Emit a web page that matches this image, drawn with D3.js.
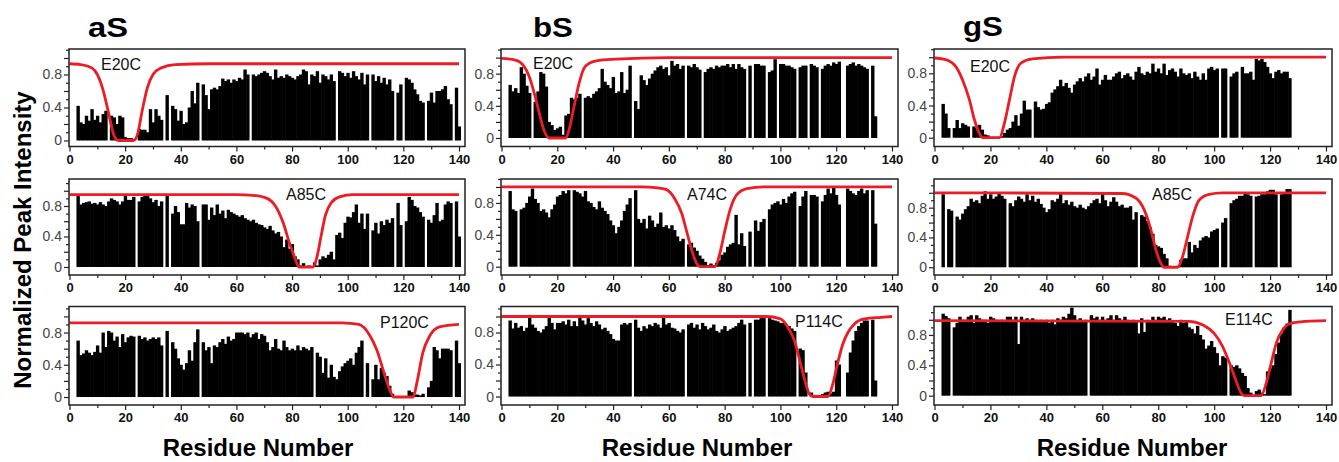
<!DOCTYPE html>
<html>
<head>
<meta charset="utf-8">
<script src="https://cdn.jsdelivr.net/npm/d3@7"></script>
<style>
  html, body { margin: 0; padding: 0; background: #fff; }
  svg { display: block; }
</style>
</head>
<body>
<svg id="chart" width="1339" height="462"></svg>
<script>
// ---------------------------------------------------------------
// Normalized PRE peak intensities, one value per residue (1..N).
// null = residue without a usable cross-peak.
// ---------------------------------------------------------------
const aS_E20C = [
  null,null,.42,.22,.20,.30,.24,.38,.25,.30,
  .22,.32,.36,null,.30,.28,.20,.30,.28,.04,
  .03,.03,.02,null,.14,.13,.13,.10,.38,.22,
  .38,.30,.25,null,.55,null,.42,.38,.24,.36,
  .20,.22,.40,.60,.45,.70,null,.68,.55,.38,
  .62,.64,.62,.66,.75,.72,.74,.70,.74,.72,
  .76,.74,.86,.80,null,.80,.78,.80,.82,.84,
  .82,.78,.74,.86,.76,.78,.76,.80,.78,.76,
  .74,.78,.80,.86,.84,.68,.80,.78,.84,.70,
  .80,.78,.74,.80,.72,null,.84,.82,.78,.82,
  .76,.84,.78,.74,.82,.68,.80,null,.80,.72,
  .78,.70,.76,.68,.74,.60,null,.58,.68,null,
  .76,.74,.70,.62,.56,.48,.46,null,.48,.58,
  .46,.60,.60,.62,.66,.50,.44,null,.64,.17
];
const aS_A85C = [
  null,null,.93,.82,.84,.85,.86,.83,.84,.82,
  .85,.82,.80,.86,.90,.88,.86,.82,.86,.93,
  .88,.88,.92,null,.86,.92,.95,.93,.90,.85,
  .88,.80,.86,null,.93,null,.70,.80,.72,.56,
  .56,.84,.78,.82,.80,.60,null,.82,.82,.62,
  .78,.68,.82,.70,.74,.64,.75,.72,.70,.68,
  .66,.68,.64,.62,.60,.62,.58,.56,.55,.52,
  .50,.54,.48,.44,.46,.40,.26,.36,.24,.30,
  .14,.10,.02,.05,.01,.02,.01,.06,.02,.10,
  .14,.12,.16,.20,.10,.42,.45,.38,.58,.66,
  .65,.72,.82,.58,.70,.50,.70,null,.48,.58,
  .44,.60,.55,.62,.58,.64,null,.84,.55,null,
  .60,.92,.88,.80,.78,.72,.66,null,.62,.58,
  .68,.84,.60,.62,.82,.86,.84,null,.86,.40
];
const aS_P120C = [
  null,null,.70,.52,.54,.58,.55,.52,.56,.64,
  .55,.80,.62,.82,.80,.70,.75,.62,.78,.68,
  .74,.76,.75,null,.76,.72,.74,.70,.72,.74,
  .72,.74,.64,null,.82,null,.68,.60,.48,.40,
  .34,.42,.58,.45,.68,.84,null,.68,.58,.62,
  .42,.64,.62,.68,.72,.66,.75,.70,.72,.80,
  .80,.80,.78,.80,.74,.78,.80,.72,.78,.76,
  .68,.58,.62,.72,.60,.58,.70,.62,.58,.60,
  .58,.64,.58,.62,.60,.58,.62,null,.55,.50,
  .30,.48,.24,.40,.25,.22,.32,.38,.42,.45,
  .48,.40,.55,.62,.70,null,.42,null,.22,.40,
  .22,.36,.30,.26,.14,.04,null,.01,.01,null,
  .01,.08,.06,.03,.03,.02,.04,null,.12,.20,
  .62,.58,.48,.60,.60,.60,.58,null,.70,.42
];

const bS_E20C = [
  null,null,.66,.58,.62,.56,.88,.80,.65,.56,
  null,.45,.58,.82,.80,.64,.20,.16,.10,.12,
  .14,.04,.28,.30,.50,.48,.50,.55,null,.50,
  .52,.50,.55,.58,.62,.86,.70,.66,.62,.76,
  .56,.58,.82,.56,.60,.90,null,.46,.36,.78,
  .72,.66,.74,.80,.84,.88,.90,.86,.88,.78,
  .96,.90,.92,.86,.90,null,.90,.88,.92,.88,
  .85,null,.82,.86,.88,.86,.90,.88,.90,.90,
  .92,.88,.92,.86,.92,.88,.86,null,.90,null,
  .92,.92,.90,.90,null,.82,.84,.98,null,.92,
  .92,.90,.90,.88,.86,null,.88,.90,.90,null,
  .92,.90,.88,null,.86,.90,.92,.90,.94,.92,
  .95,null,null,.90,.92,.94,.90,.92,.90,.88,
  .86,null,.90,.27
];
const bS_A74C = [
  null,null,.95,.72,.70,null,.72,.74,.80,.88,
  .98,.85,.80,.70,.72,.68,.62,.72,.78,.88,
  .90,.95,.92,.96,null,.96,.94,.92,.88,.95,
  .82,.80,.75,.72,.82,.74,.70,.66,.58,.52,
  .42,.50,.58,.70,.78,.86,null,.96,.60,.55,
  .60,.48,.64,.58,.50,.54,.68,.50,.52,.48,
  .52,.46,.38,.32,.35,null,.28,.30,.24,.20,
  .14,.10,.06,.02,.04,.02,.05,.08,.15,.18,
  .25,.28,.30,.65,.28,.42,.26,null,.44,null,
  .58,.45,.56,.60,null,.72,.78,.80,.82,.78,
  .85,.80,.88,.92,.94,null,.76,.88,.95,null,
  .90,.90,.88,null,.82,.90,.98,.92,1.0,.90,
  .78,null,null,.98,.95,.92,.90,.95,.98,.92,
  .96,null,.96,.54
];
const bS_P114C = [
  null,null,.95,.85,.92,.86,.88,.82,.86,1.02,
  .90,.86,.82,.80,.84,.88,1.0,.92,.84,.92,
  .92,.94,.90,.96,.88,.94,.88,1.02,.95,.90,
  .98,.92,.88,.94,.90,.84,.86,.82,.78,.72,
  .70,.70,.90,.92,.90,.92,null,.96,.86,.82,
  .88,.85,.90,.88,.92,.90,.86,1.02,.90,.92,
  .86,.85,.82,.80,.84,null,.90,.92,.86,.90,
  .84,.92,.88,.84,.86,.90,.82,.80,.84,.88,
  .82,.84,.86,.88,.92,.96,.90,null,.92,null,
  .96,.96,.98,.98,null,.98,.96,.95,.94,.92,
  .92,.90,.88,.85,.82,null,.60,.58,.30,null,
  .05,.02,.02,null,.03,.05,.06,.04,.06,.45,
  .40,null,null,.30,.55,.70,.82,.88,.92,.95,
  .95,null,.96,.20
];

const gS_E20C = [
  null,null,.42,.30,.12,null,.12,.22,.12,.18,
  .16,.14,null,.14,.12,.16,.10,.04,.03,.01,
  .01,.01,.01,.02,.06,.10,.12,.20,.28,.15,
  .30,.46,.35,.35,null,.45,.38,.35,.36,.42,
  .44,.56,.60,.64,.72,.64,.68,.62,.56,.66,
  .70,.74,.70,.76,.80,.72,.76,.86,.66,.72,
  .78,.72,.72,.76,.80,.82,.74,.78,.80,.76,
  .72,.82,.88,.80,.78,.82,.80,.92,.82,.86,
  .80,.92,.78,.84,.86,.82,.76,.86,.80,.78,
  .80,.74,.82,.76,.72,.80,.72,.86,.88,.84,
  .86,null,.86,.86,null,.76,.80,.82,null,.88,
  .80,.80,.82,.72,.98,.96,.98,.94,.88,.80,
  .74,.82,.84,.80,.82,.82,.74
];
const gS_A85C = [
  null,null,.98,null,.78,.76,null,.68,.64,.72,
  .78,.82,.92,.88,.90,.86,.96,1.02,.92,.98,
  .92,.95,1.0,.96,.92,null,.86,.82,.90,.95,
  .92,.88,.98,.90,.96,.88,.92,.85,.80,.74,
  .78,.90,.88,.92,1.0,.86,.90,.84,.88,.82,
  .80,.84,.80,.78,.82,.86,.90,.92,.86,1.0,
  .90,.82,.88,.94,.88,.82,.84,.80,.80,.82,
  .64,.74,null,.70,.68,.62,.54,.45,.30,.28,
  .26,.18,.12,.02,.01,.01,.02,.10,.12,.12,
  .34,.20,.30,.26,.36,.40,.42,.40,.48,.50,
  .52,null,.60,.66,null,.86,.90,.92,.96,.96,
  1.0,.98,.96,null,.95,.96,.98,.98,1.02,1.04,
  1.04,.98,null,.98,1.0,1.05,1.05
];
const gS_E114C = [
  null,null,1.08,1.05,1.02,null,.90,.96,1.04,1.0,
  .98,1.04,1.06,.96,1.06,1.02,1.0,1.0,.96,1.04,
  1.02,1.0,.98,1.0,.98,1.04,1.04,1.0,1.04,.68,
  1.04,1.0,1.02,1.0,1.02,1.0,.98,1.0,.98,1.0,
  .96,1.0,.94,1.02,1.0,1.04,1.02,1.08,1.16,1.06,
  1.0,1.02,.98,1.0,null,1.06,1.02,1.04,1.0,1.04,
  1.0,1.02,1.06,1.0,1.06,1.02,1.0,1.04,1.0,.98,
  1.0,.98,.82,1.02,.84,1.0,.98,1.04,1.0,1.04,
  1.02,1.04,1.0,1.02,.98,.96,.92,1.0,.96,.98,
  .90,.88,.82,.92,.80,.74,.62,.66,.72,.64,
  .56,.40,.52,.50,null,.40,.38,.40,.36,.30,
  .26,.10,.04,null,.06,.08,.04,.02,.32,.36,
  .40,.55,.70,.82,.90,.95,1.13
];

// Fitted PRE profiles: [residue, normalized intensity]
const fit_aS_E20C = [[0,.93],[4,.92],[8,.88],[10,.80],[12,.62],[14,.34],[16,.06],[17.5,0],[23,0],[24.5,.08],[26,.34],[28,.64],[30,.80],[33,.88],[38,.92],[50,.93],[140,.93]];
const fit_aS_A85C = [[0,.95],[60,.95],[66,.94],[71,.90],[74,.80],[77,.56],[79,.32],[81,.12],[82.5,0],[87.5,0],[89,.14],[90.5,.42],[92,.68],[94,.84],[97,.92],[102,.95],[140,.95]];
const fit_aS_P120C = [[0,.92],[98,.92],[104,.90],[108,.76],[110.5,.58],[112.7,.34],[115,.10],[116.5,0],[123.5,0],[125,.2],[127,.55],[129.5,.76],[133,.87],[140,.90]];
const fit_bS_E20C = [[0,.99],[5,.97],[7.7,.91],[10,.76],[11.8,.55],[13.6,.30],[15.4,.08],[17,0],[23,0],[24.5,.14],[26,.39],[27.8,.68],[30,.89],[34,.96],[41,.98],[60,1.0],[140,1.0]];
const fit_bS_A74C = [[0,1.0],[50,1.0],[56,.99],[59,.97],[62,.86],[64.6,.67],[66.4,.44],[68.2,.21],[70,.04],[71.2,0],[76.6,0],[78.3,.17],[80,.44],[82,.72],[84.3,.90],[88,.98],[94,1.0],[140,1.0]];
const fit_bS_P114C = [[0,1.0],[95,1.0],[100,.97],[102.6,.87],[105,.70],[106.8,.47],[108.6,.22],[110.4,.03],[111.6,0],[117,0],[118.8,.16],[120.6,.43],[122.4,.66],[124.2,.80],[126.6,.91],[130,.97],[136,.99],[140,1.0]];
const fit_gS_E20C = [[0,.99],[4,.97],[7.7,.88],[10,.72],[12.5,.47],[14.3,.22],[16.1,.05],[17.3,0],[23.2,0],[25,.18],[26.8,.47],[28.6,.76],[31,.93],[35,.98],[46,1.0],[140,1.0]];
const fit_gS_A85C = [[0,1.0],[67,.99],[72,.93],[75,.77],[77.4,.50],[79.2,.23],[81,.05],[82.1,0],[86.9,0],[88.7,.14],[90.5,.41],[92.3,.68],[94.6,.90],[98.2,.98],[103,1.0],[140,1.0]];
const fit_gS_E114C = [[0,.99],[91,.98],[96,.93],[100,.82],[103,.65],[105.5,.43],[108,.18],[109.7,.03],[110.8,0],[116.8,0],[118.6,.16],[120.4,.43],[122.2,.69],[124.6,.87],[127,.95],[133,.98],[140,.99]];

const proteins = ["aS", "bS", "gS"];
const mutants = [["E20C", "A85C", "P120C"], ["E20C", "A74C", "P114C"], ["E20C", "A85C", "E114C"]];
const xTickValues = [0, 20, 40, 60, 80, 100, 120, 140];
const xMinorTicks = [10, 30, 50, 70, 90, 110, 130];
const yTickValues = [0, 0.4, 0.8];
const yAxisTitle = "Normalized Peak Intensity";
const xAxisTitle = "Residue Number";

const intensities = [
  [aS_E20C, aS_A85C, aS_P120C],
  [bS_E20C, bS_A74C, bS_P114C],
  [gS_E20C, gS_A85C, gS_E114C]
];
const fits = [
  [fit_aS_E20C, fit_aS_A85C, fit_aS_P120C],
  [fit_bS_E20C, fit_bS_A74C, fit_bS_P114C],
  [fit_gS_E20C, fit_gS_A85C, fit_gS_E114C]
];

// ---------------- layout ----------------
const FONT = "'Liberation Sans', Arial, Helvetica, sans-serif";
const RED = "#ec1c24";
const cols = [
  { left: 69,  right: 465,  x0: 69.5,  x140: 459,  titleX: 88,  titleY: 37, centre: 258 },
  { left: 501, right: 898,  x0: 501.5, x140: 892,  titleX: 533, titleY: 37, centre: 697 },
  { left: 934, right: 1332, x0: 934.5, x140: 1326, titleX: 963, titleY: 36, centre: 1132 }
];
const rows = [
  { top: 49,    bottom: 146.5 },
  { top: 179,   bottom: 275 },
  { top: 306.5, bottom: 405 }
];
const yDomains = [
  [[-0.073, 1.109], [-0.105, 1.154], [-0.099, 1.123]],
  [[-0.106, 1.107], [-0.104, 1.100], [-0.106, 1.125]],
  [[-0.109, 1.102], [-0.104, 1.185], [-0.123, 1.175]]
];
// mutant label offsets (left, baseline) from each panel's top-left corner
const labelOffsets = [
  [[32, 21], [217, 20.5], [311, 21.5]],
  [[32, 19.5], [186, 21], [294, 20]],
  [[36, 22.5], [218, 21], [291, 18.5]]
];

const svg = d3.select("#chart");
svg.append("rect").attr("width", 1339).attr("height", 462).attr("fill", "#fff");

proteins.forEach((prot, c) => {
  const col = cols[c];
  const x = d3.scaleLinear().domain([0, 140]).range([col.x0, col.x140]);

  svg.append("text")
    .attr("x", col.titleX).attr("y", col.titleY)
    .attr("font-family", FONT).attr("font-weight", "bold")
    .attr("font-size", 27).attr("textLength", 40).attr("lengthAdjust", "spacingAndGlyphs")
    .attr("fill", "#000")
    .text(prot);

  svg.append("text")
    .attr("x", col.centre).attr("y", 456)
    .attr("text-anchor", "middle")
    .attr("font-family", FONT).attr("font-weight", "bold").attr("font-size", 24)
    .attr("fill", "#000")
    .text(xAxisTitle);

  mutants[c].forEach((mut, r) => {
    const row = rows[r];
    const y = d3.scaleLinear().domain(yDomains[c][r]).range([row.bottom, row.top]);
    const g = svg.append("g");
    const clipId = `clip-${c}-${r}`;
    svg.append("clipPath").attr("id", clipId)
      .append("rect")
      .attr("x", col.left).attr("y", row.top)
      .attr("width", col.right - col.left).attr("height", row.bottom - row.top);

    const plot = g.append("g").attr("clip-path", `url(#${clipId})`);

    const bars = intensities[c][r]
      .map((v, i) => ({ res: i + 1, v }))
      .filter(d => d.v !== null);

    // bars overlap slightly so neighbouring residues merge without seams
    plot.append("g").selectAll("rect")
      .data(bars)
      .join("rect")
      .attr("x", d => x(d.res - 0.5))
      .attr("width", d => x(d.res + 0.5) - x(d.res - 0.5) + 0.6)
      .attr("y", d => y(d.v))
      .attr("height", d => y(0) - y(d.v))
      .attr("fill", "#000");

    const line = d3.line()
      .x(d => x(d[0]))
      .y(d => y(d[1]))
      .curve(d3.curveMonotoneX);

    plot.append("path")
      .datum(fits[c][r])
      .attr("d", line)
      .attr("fill", "none")
      .attr("stroke", RED)
      .attr("stroke-width", 2.8)
      .attr("stroke-linejoin", "round");

    // bottom axis: labelled majors + minor ticks
    const xMajor = g.append("g")
      .attr("transform", `translate(0,${row.bottom})`)
      .call(d3.axisBottom(x).tickValues(xTickValues).tickSize(5).tickPadding(3).tickFormat(d3.format("d")));
    const xMinor = g.append("g")
      .attr("transform", `translate(0,${row.bottom})`)
      .call(d3.axisBottom(x).tickValues(xMinorTicks).tickSize(3).tickFormat(""));
    [xMajor, xMinor].forEach(a => {
      a.select(".domain").remove();
      a.selectAll("line").attr("stroke", "#222").attr("stroke-width", 1.2);
    });
    xMajor.selectAll("text")
      .attr("font-family", FONT).attr("font-weight", "bold").attr("font-size", 13)
      .attr("fill", "#111");

    // left axis: labelled majors + ticks every 0.1
    const topVal = Math.floor(yDomains[c][r][1] * 10 + 1e-6) / 10;
    const allY = d3.range(0, Math.round(topVal * 10) + 1).map(k => k / 10);
    const yMajorT = allY.filter(v => Math.round(v * 10) % 2 === 0);
    const yMinorT = allY.filter(v => Math.round(v * 10) % 2 === 1);
    const yMajor = g.append("g")
      .attr("transform", `translate(${col.left},0)`)
      .call(d3.axisLeft(y).tickValues(yMajorT).tickSize(5).tickPadding(2)
        .tickFormat(d => yTickValues.some(t => Math.abs(t - d) < 1e-6) ? (d === 0 ? "0" : d3.format(".1f")(d)) : ""));
    const yMinor = g.append("g")
      .attr("transform", `translate(${col.left},0)`)
      .call(d3.axisLeft(y).tickValues(yMinorT).tickSize(3).tickFormat(""));
    [yMajor, yMinor].forEach(a => {
      a.select(".domain").remove();
      a.selectAll("line").attr("stroke", "#222").attr("stroke-width", 1.2);
    });
    yMajor.selectAll("text")
      .attr("font-family", FONT).attr("font-size", 14)
      .attr("fill", "#444");

    // panel frame
    g.append("rect")
      .attr("x", col.left).attr("y", row.top)
      .attr("width", col.right - col.left).attr("height", row.bottom - row.top)
      .attr("fill", "none").attr("stroke", "#222").attr("stroke-width", 1.5);

    // mutant label
    const off = labelOffsets[c][r];
    g.append("text")
      .attr("x", col.left + off[0]).attr("y", row.top + off[1])
      .attr("font-family", FONT).attr("font-size", 16)
      .attr("fill", "#111")
      .text(mut);
  });
});

svg.append("text")
  .attr("transform", "translate(31,240) rotate(-90)")
  .attr("text-anchor", "middle")
  .attr("font-family", FONT).attr("font-weight", "bold").attr("font-size", 24)
  .attr("fill", "#000")
  .text(yAxisTitle);
</script>
</body>
</html>
